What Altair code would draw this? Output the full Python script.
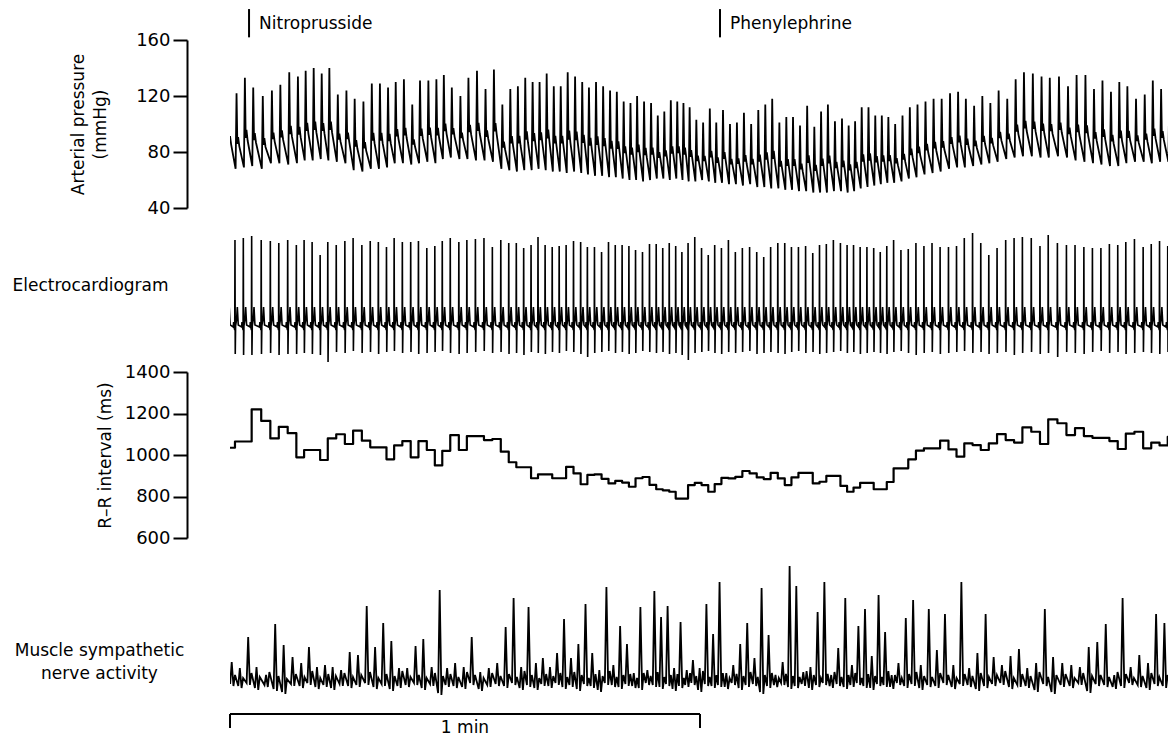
import altair as alt
import numpy as np
import pandas as pd

# ---------------- data read from the recording ----------------
# R-R interval of every beat (ms), in order
rr_ms = [
    1035, 1065, 1065, 1220, 1164, 1080, 1136, 1105, 989, 1024,
    1024, 976, 1080, 1100, 1053, 1117, 1069, 1037, 1037, 979,
    1046, 1067, 989, 1067, 1024, 950, 1020, 1096, 1024, 1091,
    1091, 1072, 1077, 1016, 965, 941, 941, 888, 907, 907,
    888, 888, 943, 911, 859, 904, 907, 885, 863, 875,
    867, 847, 888, 894, 856, 835, 830, 823, 790, 790,
    855, 866, 855, 823, 860, 890, 887, 895, 923, 911,
    892, 884, 914, 887, 855, 892, 914, 914, 863, 871,
    899, 899, 851, 823, 843, 866, 866, 835, 835, 870,
    936, 936, 979, 1021, 1032, 1032, 1069, 1027, 992, 1056,
    1048, 1024, 1056, 1101, 1072, 1060, 1133, 1112, 1053, 1172,
    1153, 1096, 1130, 1091, 1083, 1083, 1067, 1029, 1103, 1112,
    1032, 1060, 1046, 1088,
]
# systolic peak of every beat (mmHg)
sys_mmHg = [
    121, 122, 133, 126, 120, 124, 128, 137, 134, 138,
    140, 136, 140, 121, 124, 118, 116, 129, 129, 126,
    130, 132, 114, 131, 131, 132, 135, 126, 120, 133,
    138, 125, 139, 114, 125, 127, 133, 130, 130, 136,
    127, 127, 137, 134, 130, 126, 130, 127, 124, 123,
    116, 115, 120, 116, 115, 106, 109, 117, 116, 115,
    112, 103, 101, 111, 101, 110, 100, 101, 108, 100,
    110, 114, 118, 101, 105, 105, 99, 113, 98, 109,
    114, 102, 104, 99, 102, 112, 112, 106, 106, 105,
    100, 106, 112, 114, 116, 118, 118, 122, 123, 118,
    113, 120, 115, 124, 118, 132, 137, 136, 134, 133,
    134, 127, 135, 135, 125, 131, 123, 130, 127, 118,
    121, 131, 125, 121,
]
# diastolic trough before every beat (mmHg)
dia_mmHg = [
    70, 68, 69, 70, 68, 72, 72, 71, 72, 74,
    74, 75, 74, 73, 72, 67, 66, 68, 68, 69,
    72, 72, 71, 72, 73, 72, 75, 76, 75, 75,
    74, 74, 73, 68, 67, 66, 67, 67, 68, 67,
    66, 66, 65, 66, 65, 64, 63, 63, 62, 62,
    61, 60, 60, 59, 60, 61, 61, 60, 61, 60,
    59, 59, 60, 59, 58, 58, 57, 57, 56, 57,
    55, 55, 54, 54, 53, 53, 52, 52, 51, 51,
    51, 52, 52, 51, 52, 54, 55, 56, 57, 58,
    58, 59, 61, 62, 64, 65, 66, 68, 69, 69,
    70, 71, 72, 73, 75, 76, 77, 77, 76, 76,
    77, 76, 74, 73, 72, 71, 70, 70, 72, 73,
    73, 72, 73, 73,
]
# ECG: R-wave height and S-wave depth of every beat (trace units)
ecg_r = [
    80, 87, 89, 91, 87, 86, 84, 87, 82, 87,
    85, 72, 85, 82, 86, 89, 82, 86, 85, 80,
    89, 85, 85, 86, 79, 81, 86, 89, 85, 87,
    88, 89, 80, 87, 84, 84, 79, 82, 90, 82,
    80, 81, 82, 86, 85, 80, 80, 75, 85, 82,
    82, 81, 77, 75, 83, 83, 79, 84, 81, 75,
    84, 90, 79, 72, 82, 79, 87, 75, 79, 80,
    75, 70, 80, 84, 84, 80, 80, 81, 74, 82,
    83, 87, 84, 82, 82, 80, 80, 79, 75, 81,
    87, 77, 78, 84, 81, 84, 80, 80, 81, 89,
    94, 84, 72, 79, 87, 89, 90, 89, 81, 92,
    84, 82, 82, 80, 79, 79, 83, 82, 85, 88,
    80, 83, 86, 81,
]
ecg_s = [
    26, 27, 28, 28, 27, 26, 28, 27, 27, 26,
    27, 28, 35, 25, 26, 24, 26, 25, 27, 25,
    24, 26, 25, 27, 26, 25, 24, 26, 27, 26,
    25, 24, 26, 25, 27, 26, 28, 25, 26, 27,
    25, 26, 24, 25, 27, 30, 26, 25, 24, 26,
    25, 27, 26, 24, 25, 26, 25, 27, 26, 28,
    33, 26, 25, 24, 26, 27, 25, 26, 25, 24,
    27, 26, 25, 26, 27, 25, 24, 26, 25, 27,
    26, 25, 24, 26, 25, 27, 26, 25, 26, 27,
    25, 24, 26, 28, 26, 25, 27, 26, 25, 24,
    26, 25, 27, 26, 25, 28, 26, 25, 27, 26,
    30, 25, 26, 27, 25, 24, 26, 25, 27, 26,
    25, 26, 27, 25,
]
# muscle sympathetic nerve activity: burst peak, pre-burst dip, mid-cycle wiggle per beat
msna_peak = [
    18, 12, 43, 13, 5, 56, 35, 23, 17, 33,
    13, 15, 13, 10, 28, 25, 74, 33, 57, 39,
    12, 12, 34, 41, 13, 90, 12, 17, 13, 43,
    8, 12, 17, 53, 82, 13, 73, 17, 22, 13,
    27, 61, 22, 36, 76, 27, 10, 93, 15, 54,
    36, 7, 73, 10, 89, 63, 74, 12, 58, 10,
    20, 12, 76, 46, 98, 7, 15, 36, 57, 22,
    92, 45, 5, 18, 114, 94, 8, 13, 68, 98,
    5, 32, 82, 15, 54, 71, 24, 85, 48, 5,
    17, 62, 80, 15, 71, 30, 66, 15, 98, 12,
    27, 66, 23, 15, 24, 31, 12, 17, 71, 23,
    17, 15, 13, 33, 38, 56, 5, 82, 13, 25,
    17, 66, 57, 12,
]
msna_dip = [
    -4, -6, -3, -8, -5, -9, -12, -4, -6, -3,
    -7, -5, -8, -4, -6, -5, -3, -7, -4, -9,
    -6, -5, -3, -8, -4, -13, -5, -6, -7, -3,
    -9, -5, -4, -6, -3, -8, -5, -8, -4, -6,
    -3, -7, -5, -9, -4, -6, -10, -3, -5, -7,
    -4, -6, -8, -3, -5, -7, -4, -9, -6, -5,
    -3, -10, -4, -6, -5, -7, -3, -8, -5, -4,
    -12, -6, -5, -3, -7, -6, -4, -8, -5, -3,
    -6, -4, -7, -5, -3, -6, -8, -4, -5, -7,
    -3, -6, -4, -8, -5, -6, -3, -7, -4, -5,
    -9, -6, -4, -3, -7, -5, -6, -10, -4, -12,
    -5, -6, -3, -11, -4, -5, -7, -6, -3, -5,
    -8, -4, -6, -5,
]
msna_mid = [
    5, 2, 7, 3, 8, 4, 1, 6, 3, 9,
    2, 6, 4, 7, 3, 5, 8, 2, 6, 4,
    9, 3, 5, 2, 7, 4, 6, 3, 8, 5,
    2, 7, 4, 6, 3, 9, 5, 2, 6, 4,
    7, 3, 8, 5, 2, 6, 4, 9, 3, 5,
    6, 2, 7, 4, 8, 3, 5, 6, 2, 7,
    4, 9, 3, 5, 7, 2, 6, 4, 8, 3,
    5, 7, 2, 6, 4, 3, 9, 5, 2, 6,
    8, 3, 5, 7, 2, 6, 4, 3, 9, 5,
    2, 6, 8, 4, 3, 7, 5, 2, 6, 4,
    7, 3, 5, 9, 2, 6, 4, 8, 3, 5,
    6, 2, 7, 4, 5, 3, 8, 6, 2, 4,
    7, 3, 5, 6,
]
event_t = [2.43, 62.55]
event_labels = ["Nitroprusside", "Phenylephrine"]
scale_bar_s = [0, 60]
scale_bar_label = "1 min"

N = len(rr_ms)
for _name, _arr in [("sys", sys_mmHg), ("dia", dia_mmHg), ("ecg_r", ecg_r), ("ecg_s", ecg_s),
                    ("peak", msna_peak), ("dip", msna_dip), ("mid", msna_mid)]:
    assert len(_arr) == N, (_name, len(_arr))

# ---------------- build traces ----------------
T_START = -0.4
PX_PER_S = 470 / 60
PLOT_W = 938
T_END = PLOT_W / PX_PER_S
FONT = "DejaVu Sans"

beat_t = T_START + np.concatenate([[0.0], np.cumsum(rr_ms)[:-1]]) / 1000.0

ap_t, ap_v = [], []
for i in range(N):
    t, S, D = beat_t[i], sys_mmHg[i], dia_mmHg[i]
    A = S - D
    ap_t += [t + 0.08, t + 0.20, t + 0.30, t + 0.40, t + 0.55]
    ap_v += [D, S, D + 0.33 * A, D + 0.42 * A, D + 0.30 * A]
ap_df = pd.DataFrame({"t": ap_t, "v": ap_v})

ecg_t, ecg_v = [], []
for i in range(N):
    t, R, Sd = beat_t[i], ecg_r[i] / 100, -ecg_s[i] / 100
    ecg_t += [t - 0.22, t - 0.17, t - 0.12, t - 0.03, t, t + 0.035, t + 0.08, t + 0.2, t + 0.3, t + 0.42]
    ecg_v += [0.0, 0.05, 0.0, -0.03, R, Sd, 0.01, 0.07, 0.2, 0.02]
ecg_df = pd.DataFrame({"t": ecg_t, "v": ecg_v})

rr_df = pd.DataFrame({"t": list(beat_t) + [beat_t[-1] + rr_ms[-1] / 1000],
                      "v": rr_ms + [rr_ms[-1]]})

ms_t, ms_v = [], []
for i in range(N):
    u = beat_t[i] + 0.62
    ms_t += [u - 0.2, u, u + 0.22, u + 0.42]
    ms_v += [msna_dip[i] / 100, msna_peak[i] / 100, msna_dip[i] / 100 - 0.02, msna_mid[i] / 100]
ms_df = pd.DataFrame({"t": ms_t, "v": ms_v})

ev_df = pd.DataFrame({"t": event_t, "label": event_labels, "y1": 161.9, "y2": 182.1, "ty": 167.6})
BAR_Y, TICK_Y, LAB_Y = -0.34, -0.48, -0.53
bar_df = pd.DataFrame({"t": [scale_bar_s[0], scale_bar_s[0], scale_bar_s[1]],
                       "t2": [scale_bar_s[1], scale_bar_s[0], scale_bar_s[1]],
                       "y": [BAR_Y] * 3, "y2": [BAR_Y, TICK_Y, TICK_Y]})
lab_df = pd.DataFrame({"t": [sum(scale_bar_s) / 2], "label": [scale_bar_label], "y": [LAB_Y]})

xs = alt.Scale(domain=[0, T_END], nice=False, zero=False)
X = alt.X("t:Q", scale=xs, axis=None)

def left_axis(values, title, tx, ty, lh=22):
    return alt.Axis(values=values, format="d", offset=43, tickSize=14, tickWidth=2, domainWidth=2,
                    tickColor="black", domainColor="black", labelColor="black",
                    labelFontSize=18, labelFont=FONT, labelPadding=3, grid=False,
                    title=title, titleFont=FONT, titleFontSize=17, titleFontWeight="normal",
                    titleColor="black", titleAngle=270, titleAlign="center", titleBaseline="middle",
                    titleX=tx, titleY=ty, titleLineHeight=lh)

def text_axis(title, tx, ty, align):
    return alt.Axis(labels=False, ticks=False, domain=False, grid=False, title=title,
                    titleFont=FONT, titleFontSize=17, titleFontWeight="normal", titleColor="black",
                    titleAngle=0, titleAlign=align, titleBaseline="middle", titleX=tx, titleY=ty,
                    titleLineHeight=23)

# Panel 1: arterial pressure
ys1 = alt.Scale(domain=[40, 160], nice=False, zero=False)
ap_line = alt.Chart(ap_df).mark_line(color="black", strokeWidth=1.8, clip=True).encode(
    x=X, y=alt.Y("v:Q", scale=ys1, axis=left_axis([40, 80, 120, 160], ["Arterial pressure", "(mmHg)"], -109, 84)))
ev_rule = alt.Chart(ev_df).mark_rule(color="black", strokeWidth=2).encode(
    x=X, y=alt.Y("y1:Q", scale=ys1), y2="y2:Q")
ev_text = alt.Chart(ev_df).mark_text(align="left", baseline="alphabetic", dx=10, fontSize=17,
                                     font=FONT, color="black").encode(
    x=X, y=alt.Y("ty:Q", scale=ys1), text="label:N")
p1 = alt.layer(ap_line, ev_rule, ev_text).properties(width=PLOT_W, height=168)

# Panel 2: ECG
ys2 = alt.Scale(domain=[-0.45, 1.19], nice=False, zero=False)
p2 = alt.Chart(ecg_df).mark_line(color="black", strokeWidth=1.6, clip=True).encode(
    x=X, y=alt.Y("v:Q", scale=ys2, axis=text_axis("Electrocardiogram", -218, 77, "left"))
).properties(width=PLOT_W, height=164)

# Panel 3: R-R interval
ys3 = alt.Scale(domain=[600, 1400], nice=False, zero=False)
p3 = alt.Chart(rr_df).mark_line(color="black", strokeWidth=2.2, clip=True, interpolate="step-after",
                                strokeJoin="round").encode(
    x=X, y=alt.Y("v:Q", scale=ys3, axis=left_axis([600, 800, 1000, 1200, 1400], "R–R interval (ms)", -82, 83))
).properties(width=PLOT_W, height=166)

# Panel 4: MSNA + time scale bar
ys4 = alt.Scale(domain=[-0.60, 1.42], nice=False, zero=False)
ms_line = alt.Chart(ms_df).mark_line(color="black", strokeWidth=1.8, clip=True).encode(
    x=X, y=alt.Y("v:Q", scale=ys4,
                 axis=text_axis(["Muscle sympathetic", "nerve activity"], -131, 112, "center")))
bar = alt.Chart(bar_df).mark_rule(color="black", strokeWidth=2).encode(
    x=X, x2="t2:Q", y=alt.Y("y:Q", scale=ys4), y2="y2:Q")
bar_text = alt.Chart(lab_df).mark_text(align="center", baseline="alphabetic", fontSize=17,
                                       font=FONT, color="black").encode(
    x=X, y=alt.Y("y:Q", scale=ys4), text="label:N")
p4 = alt.layer(ms_line, bar, bar_text).properties(width=PLOT_W, height=202)

chart = alt.vconcat(p1, p2, p3, p4, spacing=0, bounds="flush").properties(
    padding={"left": 4, "top": 0, "right": 0, "bottom": 0}, background="white"
).configure(font=FONT).configure_view(stroke=None)

chart.save("out.html", embed_options={"renderer": "svg", "actions": False})
